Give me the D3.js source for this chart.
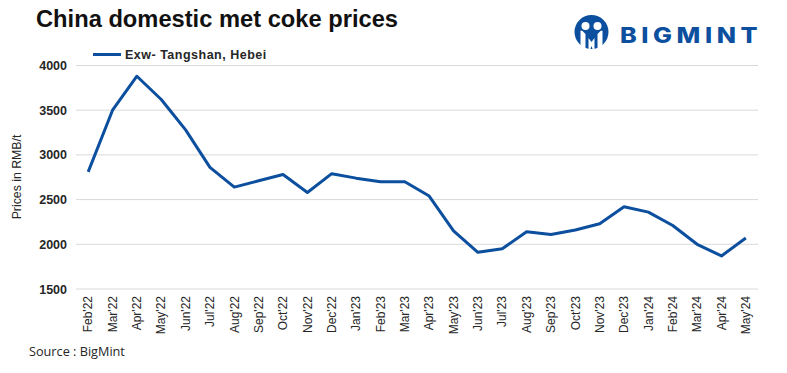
<!DOCTYPE html>
<html>
<head>
<meta charset="utf-8">
<script src="https://cdn.jsdelivr.net/npm/d3@7"></script>
<style>
  html, body { margin: 0; padding: 0; background: #fff; }
  svg { display: block; }
  text { font-family: "Liberation Sans", Arial, sans-serif; }
</style>
</head>
<body>
<div id="chart"></div>
<script>
const months = ["Feb'22","Mar'22","Apr'22","May'22","Jun'22","Jul'22","Aug'22","Sep'22","Oct'22","Nov'22","Dec'22","Jan'23","Feb'23","Mar'23","Apr'23","May'23","Jun'23","Jul'23","Aug'23","Sep'23","Oct'23","Nov'23","Dec'23","Jan'24","Feb'24","Mar'24","Apr'24","May'24"];
const prices = [2810,3500,3880,3620,3280,2860,2640,2710,2780,2580,2790,2740,2700,2700,2540,2150,1910,1950,2140,2110,2160,2230,2420,2360,2210,2000,1870,2070];
const yTicks = [1500,2000,2500,3000,3500,4000];

const width = 787, height = 373;
const blue = '#0b4f9e';

const svg = d3.select('#chart').append('svg')
  .attr('width', width)
  .attr('height', height);

const x = d3.scaleBand().domain(months).range([76, 758]);
const y = d3.scaleLinear().domain([1500, 4000]).range([289, 65.5]);

// gridlines
svg.append('g')
  .selectAll('line')
  .data(yTicks)
  .enter()
  .append('line')
  .attr('x1', 76)
  .attr('x2', 758)
  .attr('y1', d => y(d))
  .attr('y2', d => y(d))
  .attr('stroke', '#d9d9d9')
  .attr('stroke-width', 1);

// y axis
const yAxis = svg.append('g')
  .attr('transform', 'translate(76,0)')
  .call(d3.axisLeft(y).tickValues(yTicks).tickFormat(d3.format('d')).tickSize(0).tickPadding(9));
yAxis.select('.domain').remove();
yAxis.selectAll('text')
  .style('font-size', '12.5px')
  .style('font-weight', 'bold')
  .attr('fill', '#262626');

// x axis
const xAxis = svg.append('g')
  .attr('transform', 'translate(0,289)')
  .call(d3.axisBottom(x).tickSize(0));
xAxis.select('.domain').remove();
xAxis.selectAll('text')
  .style('font-size', '12px')
  .attr('fill', '#262626')
  .attr('text-anchor', 'end')
  .attr('transform', 'rotate(-90)')
  .attr('x', -7)
  .attr('y', 0)
  .attr('dy', '0.35em');

// price line
const line = d3.line()
  .x((d, i) => x(months[i]) + x.bandwidth() / 2)
  .y(d => y(d));

svg.append('path')
  .datum(prices)
  .attr('fill', 'none')
  .attr('stroke', blue)
  .attr('stroke-width', 3)
  .attr('stroke-linejoin', 'round')
  .attr('d', line);

// title
svg.append('text')
  .attr('x', 36)
  .attr('y', 27)
  .style('font-size', '23.7px')
  .style('font-weight', 'bold')
  .attr('fill', '#111')
  .text('China domestic met coke prices');

// legend
svg.append('line')
  .attr('x1', 93)
  .attr('x2', 121)
  .attr('y1', 54.5)
  .attr('y2', 54.5)
  .attr('stroke', blue)
  .attr('stroke-width', 3);
svg.append('text')
  .attr('x', 125)
  .attr('y', 59)
  .style('font-size', '12.5px')
  .style('font-weight', 'bold')
  .style('letter-spacing', '0.5px')
  .attr('fill', '#262626')
  .text('Exw- Tangshan, Hebei');

// y axis title
svg.append('text')
  .attr('transform', 'translate(21,177) rotate(-90)')
  .attr('text-anchor', 'middle')
  .style('font-size', '12.3px')
  .attr('fill', '#262626')
  .text('Prices in RMB/t');

// source
svg.append('text')
  .attr('x', 29)
  .attr('y', 356)
  .style('font-family', '"Open Sans", sans-serif')
  .style('font-size', '12.7px')
  .attr('fill', '#262626')
  .text('Source : BigMint');

// logo
const logo = svg.append('g').attr('transform', 'translate(591.5,32)');
logo.append('circle').attr('r', 17).attr('fill', blue);
logo.append('path')
  .attr('d', 'M-11,14 L-11,-1 Q-11,-2 -9,-1 L-6,2 L-6,17 Z M11,14 L11,-1 Q11,-2 9,-1 L6,2 L6,17 Z M-3,18 L-3,6 L0,10 L3,6 L3,18 L1.5,18 L0,14 L-1.5,18 Z')
  .attr('fill', '#fff');
logo.append('circle').attr('cx', -6).attr('cy', -6).attr('r', 4).attr('fill', '#fff');
logo.append('circle').attr('cx', 6).attr('cy', -6).attr('r', 4).attr('fill', '#fff');
svg.append('text')
  .attr('transform', 'translate(620,43) scale(1.2,1)')
  .style('font-family', 'Inter, sans-serif')
  .style('font-size', '21px')
  .style('font-weight', '800')
  .style('letter-spacing', '3.8px')
  .attr('fill', blue)
  .text('BIGMINT');
</script>
</body>
</html>
